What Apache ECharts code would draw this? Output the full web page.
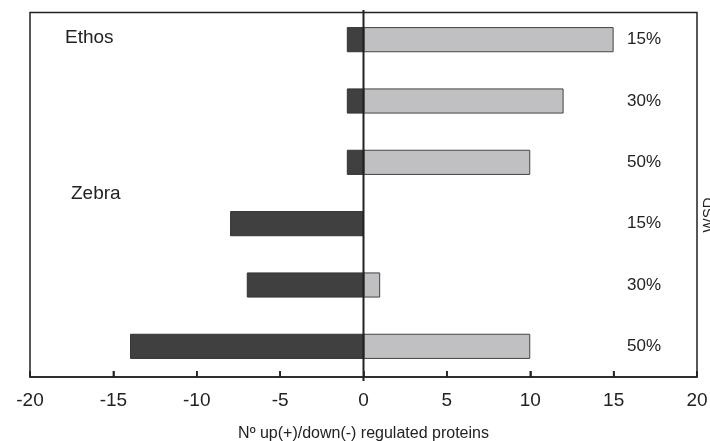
<!DOCTYPE html>
<html><head><meta charset="utf-8">
<script src="https://cdn.jsdelivr.net/npm/echarts@6/dist/echarts.min.js"></script>
<style>html,body{margin:0;padding:0;background:#fff}#c{width:710px;height:441px}</style>
</head><body><div id="c"></div>
<script>
var categories = ['15%', '30%', '50%', '15%', '30%', '50%'];
var downValues = [-1, -1, -1, -8, -7, -14];
var upValues = [15, 12, 10, 0, 1, 10];
var xTicks = [-20, -15, -10, -5, 0, 5, 10, 15, 20];
var groupLabels = ['Ethos', 'Zebra'];

var chart = echarts.init(document.getElementById('c'));
var font = '"Liberation Sans", Arial, sans-serif';
chart.setOption({
  animation: false,
  grid: {left: 30, right: 13, top: 9, bottom: 64, show: false, outerBoundsMode: 'none', containLabel: false},
  xAxis: {
    type: 'value', min: xTicks[0], max: xTicks[xTicks.length - 1], interval: 5,
    axisLine: {show: true, onZero: false, lineStyle: {color: '#222', width: 1.5}},
    axisTick: {show: true, inside: true, length: 6, lineStyle: {color: '#111', width: 1.5}},
    axisLabel: {fontFamily: font, fontSize: 19, color: '#222', margin: 14},
    splitLine: {show: false},
    name: 'N\u00ba up(+)/down(-) regulated proteins', nameLocation: 'middle', nameGap: 49,
    nameTextStyle: {fontFamily: font, fontSize: 16, color: '#222'}
  },
  yAxis: {
    type: 'category', data: categories, inverse: true, position: 'right',
    axisLine: {show: false}, axisTick: {show: false},
    axisLabel: {inside: true, margin: 36, fontFamily: font, fontSize: 17, color: '#222'}
  },
  series: [
    {type: 'bar', data: downValues, barWidth: '41%', barGap: '-100%',
      itemStyle: {color: '#404040', borderColor: '#333', borderWidth: 1}},
    {type: 'bar', data: upValues, barWidth: '41%',
      itemStyle: {color: '#c0c0c2', borderColor: '#444', borderWidth: 1}},
    {type: 'custom', silent: true, z: 5, clip: false,
      data: xTicks.map(function (v) { return [v, 0]; }),
      encode: {x: 0, y: 1},
      renderItem: function (params, api) {
        var cs = params.coordSys;
        var v = api.value(0);
        var x = api.coord([v, 0])[0];
        var bottom = cs.y + cs.height;
        if (v === 0) {
          return {type: 'group', children: [
            {type: 'rect', shape: {x: cs.x, y: cs.y + 3.5, width: cs.width, height: cs.height - 3.5},
              style: {fill: null, stroke: '#222', lineWidth: 1.5}},
            {type: 'line', shape: {x1: x, y1: cs.y + 1, x2: x, y2: bottom + 4},
              style: {stroke: '#222', lineWidth: 2}}
          ]};
        }
        return {type: 'line', shape: {x1: x, y1: bottom, x2: x, y2: bottom - 6},
          style: {stroke: '#222', lineWidth: 1.5}};
      }}
  ],
  graphic: [
    {type: 'text', left: 65, top: 28, style: {text: groupLabels[0], font: '19px ' + font, fill: '#222'}},
    {type: 'text', left: 71, top: 184, style: {text: groupLabels[1], font: '19px ' + font, fill: '#222'}},
    {type: 'text', x: 701, y: 215, rotation: Math.PI / 2, style: {text: 'WSD', font: '15px ' + font, fill: '#222', align: 'center', verticalAlign: 'top'}}
  ]
});
</script></body></html>
